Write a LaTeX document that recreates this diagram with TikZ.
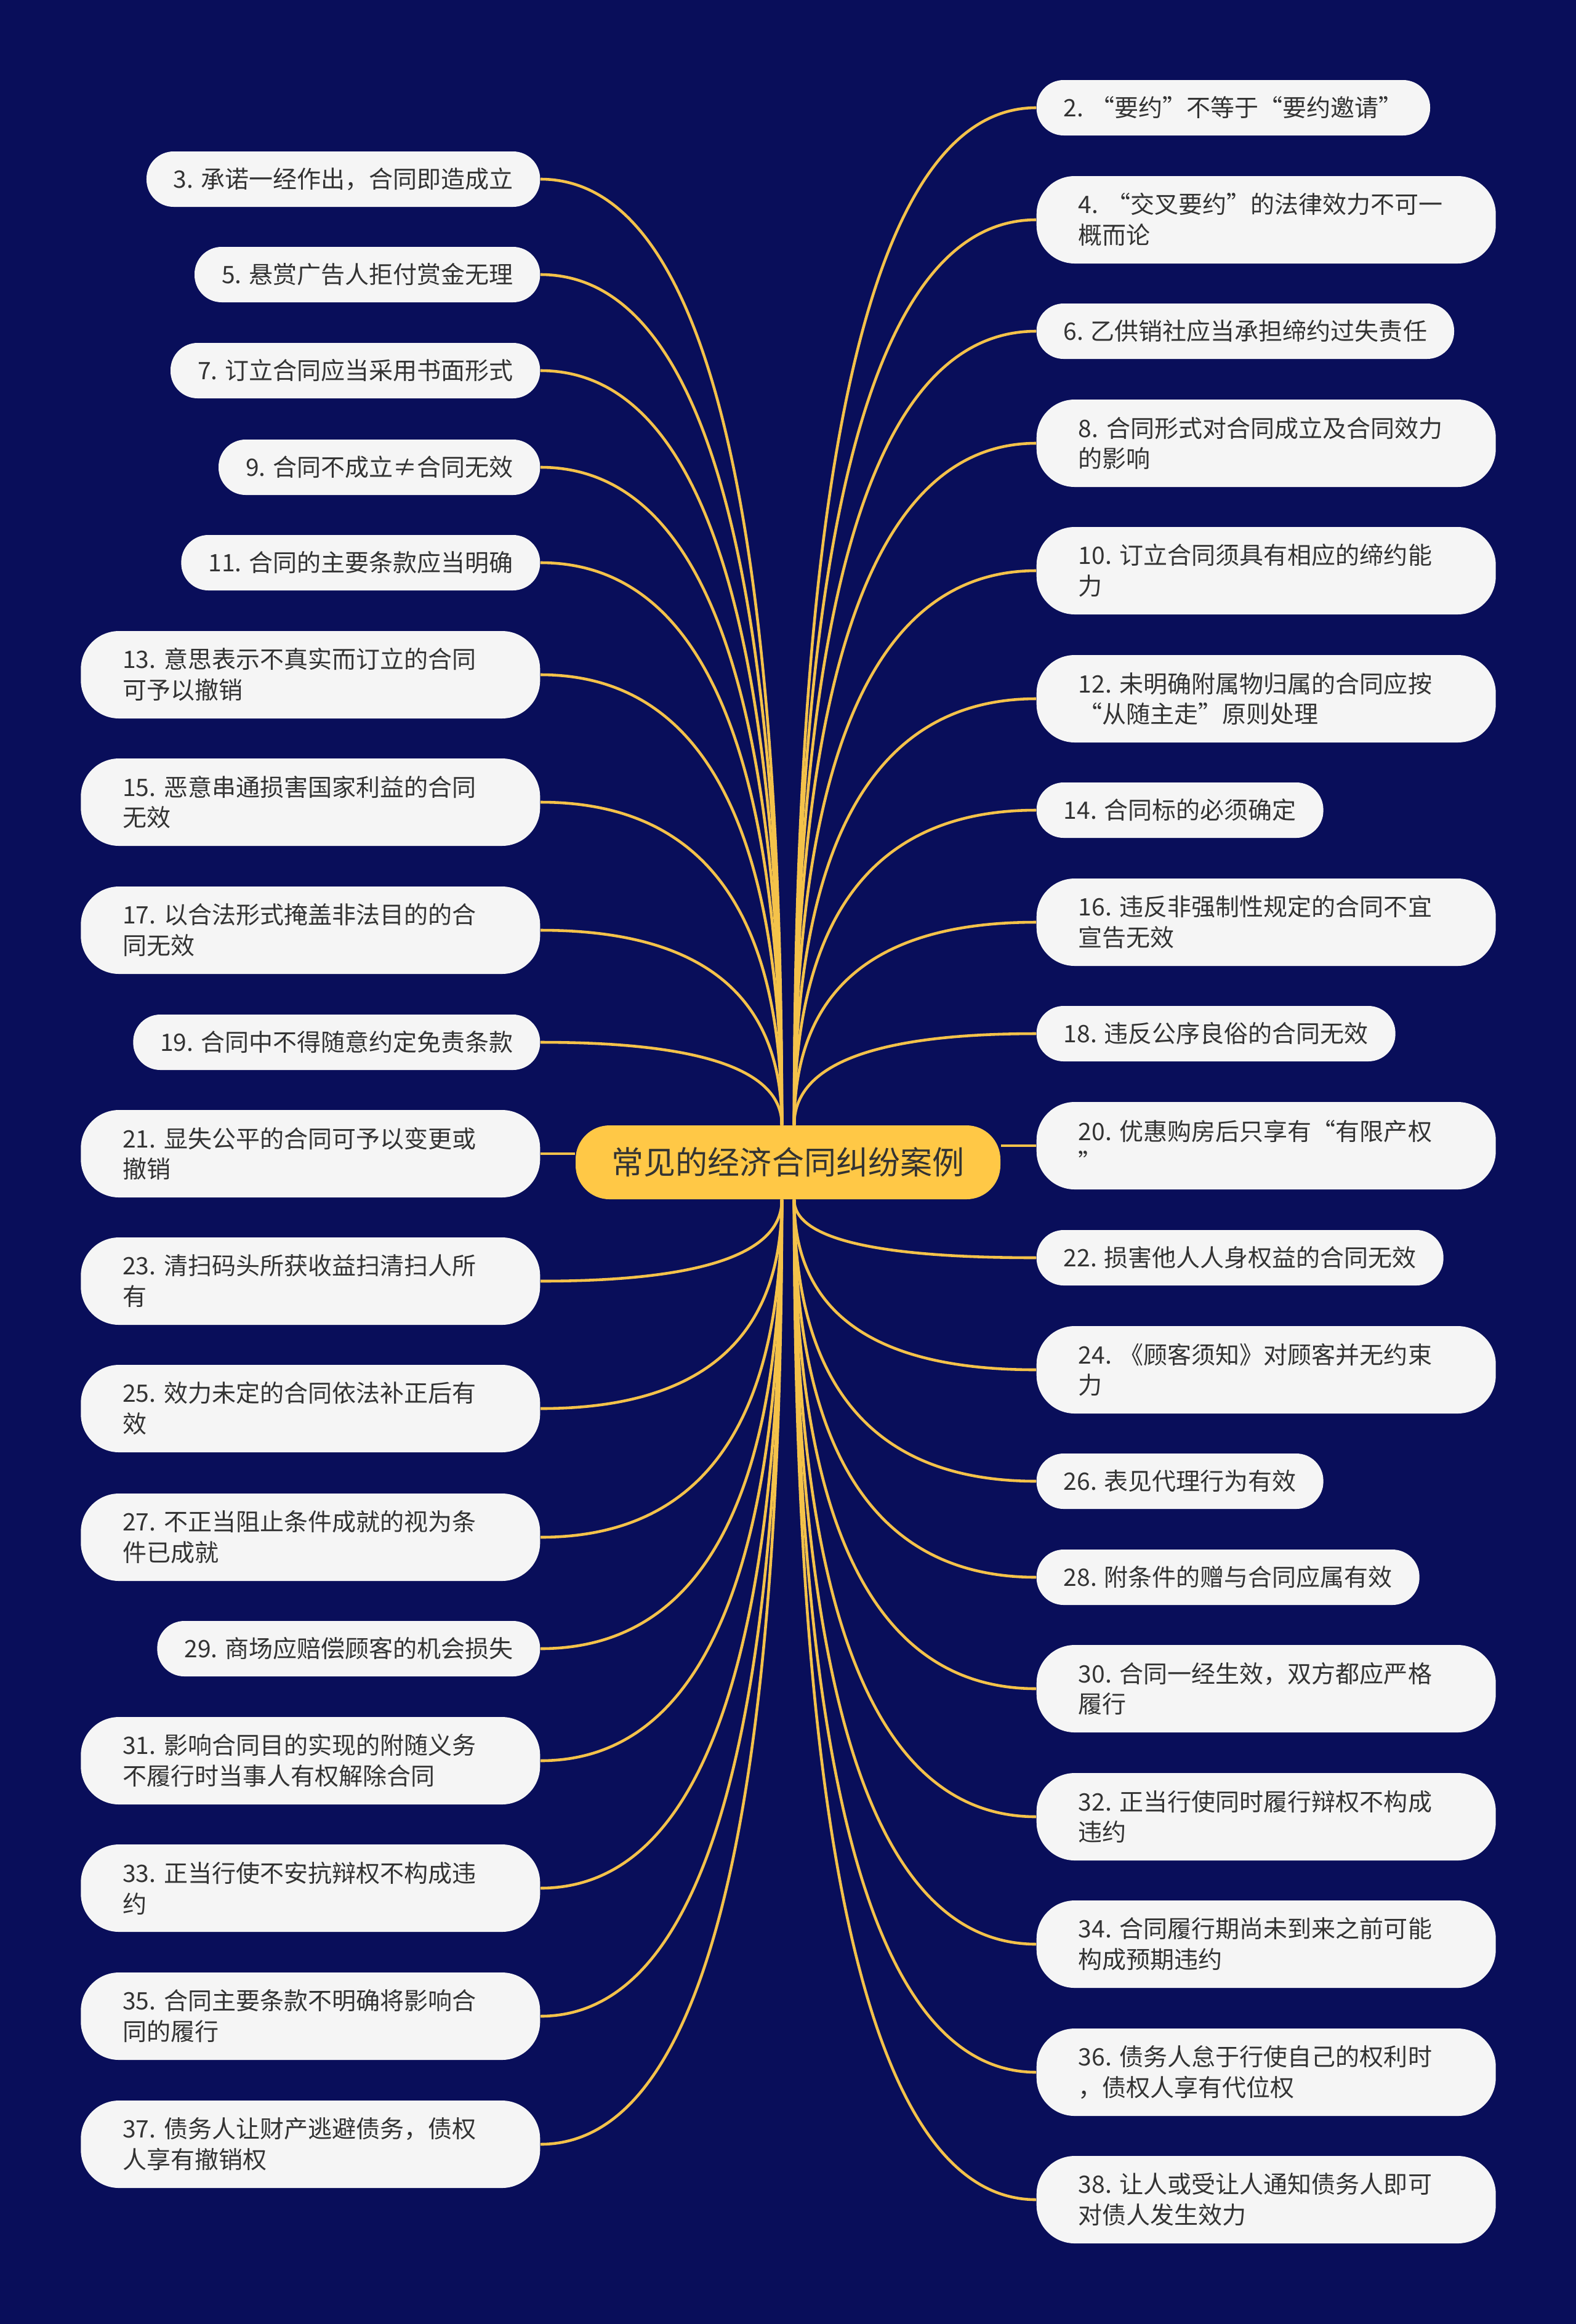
\documentclass[tikz,border=0pt]{standalone}
\usepackage{fontspec}
\usepackage{tikz}
\usetikzlibrary{calc}
\newfontfamily\cjk{Noto Sans CJK SC}
\newcommand\leaffont{\cjk\fontsize{11.1pt}{14.2pt}\selectfont}
\newcommand\rootfont{\cjk\fontsize{14.8pt}{18pt}\selectfont}
\definecolor{bgnavy}{HTML}{090E5A}
\definecolor{rootfill}{HTML}{FFC846}
\definecolor{linkgold}{HTML}{F4C24A}
\definecolor{boxfill}{HTML}{F5F5F5}
\definecolor{inkgray}{HTML}{333333}
\tikzset{
  leaf/.style={fill=boxfill, text=inkgray, rounded corners=0.44cm, minimum height=0.9cm,
    inner xsep=0.44cm, inner ysep=0pt, font=\leaffont},
  leaftwo/.style={leaf, rounded corners=0.62cm, minimum height=1.42cm, text width=6.1cm,
    align=left, inner xsep=0.68cm},
  root/.style={fill=rootfill, text=inkgray, rounded corners=0.55cm, minimum width=6.9cm,
    minimum height=1.2cm, font=\rootfont},
  branch/.style={draw=linkgold, line width=1.3pt}
}

\begin{document}
\begin{tikzpicture}
  \fill[bgnavy] (0,0) rectangle (25.6,-37.75);
  \useasboundingbox (0,0) rectangle (25.6,-37.75);

  \node[root] (root) at (12.8,-18.88) {常见的经济合同纠纷案例};

  % left side
  \foreach \n/\y/\s/\txt in {
    3/2.91/leaf/{3. 承诺一经作出，合同即造成立},
    5/4.46/leaf/{5. 悬赏广告人拒付赏金无理},
    7/6.02/leaf/{7. 订立合同应当采用书面形式},
    9/7.59/leaf/{9. 合同不成立≠合同无效},
    11/9.14/leaf/{11. 合同的主要条款应当明确},
    13/10.96/leaftwo/{13.~意思表示不真实而订立的合同\\可予以撤销},
    15/13.03/leaftwo/{15.~恶意串通损害国家利益的合同\\无效},
    17/15.11/leaftwo/{17.~以合法形式掩盖非法目的的合\\同无效},
    19/16.93/leaf/{19. 合同中不得随意约定免责条款},
    21/18.74/leaftwo/{21.~显失公平的合同可予以变更或\\撤销},
    23/20.81/leaftwo/{23.~清扫码头所获收益扫清扫人所\\有},
    25/22.88/leaftwo/{25.~效力未定的合同依法补正后有\\效},
    27/24.97/leaftwo/{27.~不正当阻止条件成就的视为条\\件已成就},
    29/26.78/leaf/{29. 商场应赔偿顾客的机会损失},
    31/28.60/leaftwo/{31.~影响合同目的实现的附随义务\\不履行时当事人有权解除合同},
    33/30.67/leaftwo/{33.~正当行使不安抗辩权不构成违\\约},
    35/32.75/leaftwo/{35.~合同主要条款不明确将影响合\\同的履行},
    37/34.83/leaftwo/{37.~债务人让财产逃避债务，债权\\人享有撤销权}} {
    \node[\s, anchor=east] (n\n) at (8.78,-\y) {\txt};
  }

  % right side
  \foreach \n/\y/\s/\txt in {
    2/1.75/leaf/{2. “要约”不等于“要约邀请”},
    4/3.57/leaftwo/{4.~“交叉要约”的法律效力不可一\\概而论},
    6/5.38/leaf/{6. 乙供销社应当承担缔约过失责任},
    8/7.20/leaftwo/{8.~合同形式对合同成立及合同效力\\的影响},
    10/9.27/leaftwo/{10.~订立合同须具有相应的缔约能\\力},
    12/11.35/leaftwo/{12.~未明确附属物归属的合同应按\\“从随主走”原则处理},
    14/13.16/leaf/{14. 合同标的必须确定},
    16/14.98/leaftwo/{16.~违反非强制性规定的合同不宜\\宣告无效},
    18/16.79/leaf/{18. 违反公序良俗的合同无效},
    20/18.61/leaftwo/{20.~优惠购房后只享有“有限产权\\”},
    22/20.43/leaf/{22. 损害他人人身权益的合同无效},
    24/22.25/leaftwo/{24.~《顾客须知》对顾客并无约束\\力},
    26/24.06/leaf/{26. 表见代理行为有效},
    28/25.62/leaf/{28. 附条件的赠与合同应属有效},
    30/27.43/leaftwo/{30.~合同一经生效，双方都应严格\\履行},
    32/29.51/leaftwo/{32.~正当行使同时履行辩权不构成\\违约},
    34/31.58/leaftwo/{34.~合同履行期尚未到来之前可能\\构成预期违约},
    36/33.66/leaftwo/{36.~债务人怠于行使自己的权利时\\，债权人享有代位权},
    38/35.73/leaftwo/{38.~让人或受让人通知债务人即可\\对债人发生效力}} {
    \node[\s, anchor=west] (n\n) at (16.83,-\y) {\txt};
  }

  % where the branches leave the root
  \coordinate (tl) at ([xshift=-0.1cm]root.north);
  \coordinate (tr) at ([xshift=0.1cm]root.north);
  \coordinate (bl) at ([xshift=-0.1cm]root.south);
  \coordinate (br) at ([xshift=0.1cm]root.south);

  \foreach \n in {3,5,7,9,11,13,15,17,19} {
    \draw[branch] (tl) .. controls ($(tl)!0.667!(tl |- n\n.east)$)
      and ($(n\n.east)!0.667!(tl |- n\n.east)$) .. (n\n.east);
  }
  \foreach \n in {2,4,6,8,10,12,14,16,18} {
    \draw[branch] (tr) .. controls ($(tr)!0.667!(tr |- n\n.west)$)
      and ($(n\n.west)!0.667!(tr |- n\n.west)$) .. (n\n.west);
  }
  \foreach \n in {23,25,27,29,31,33,35,37} {
    \draw[branch] (bl) .. controls ($(bl)!0.667!(bl |- n\n.east)$)
      and ($(n\n.east)!0.667!(bl |- n\n.east)$) .. (n\n.east);
  }
  \foreach \n in {22,24,26,28,30,32,34,36,38} {
    \draw[branch] (br) .. controls ($(br)!0.667!(br |- n\n.west)$)
      and ($(n\n.west)!0.667!(br |- n\n.west)$) .. (n\n.west);
  }
  \draw[branch] (n21.east) -- (n21.east -| root.west);
  \draw[branch] (n20.west) -- (n20.west -| root.east);
\end{tikzpicture}
\end{document}
